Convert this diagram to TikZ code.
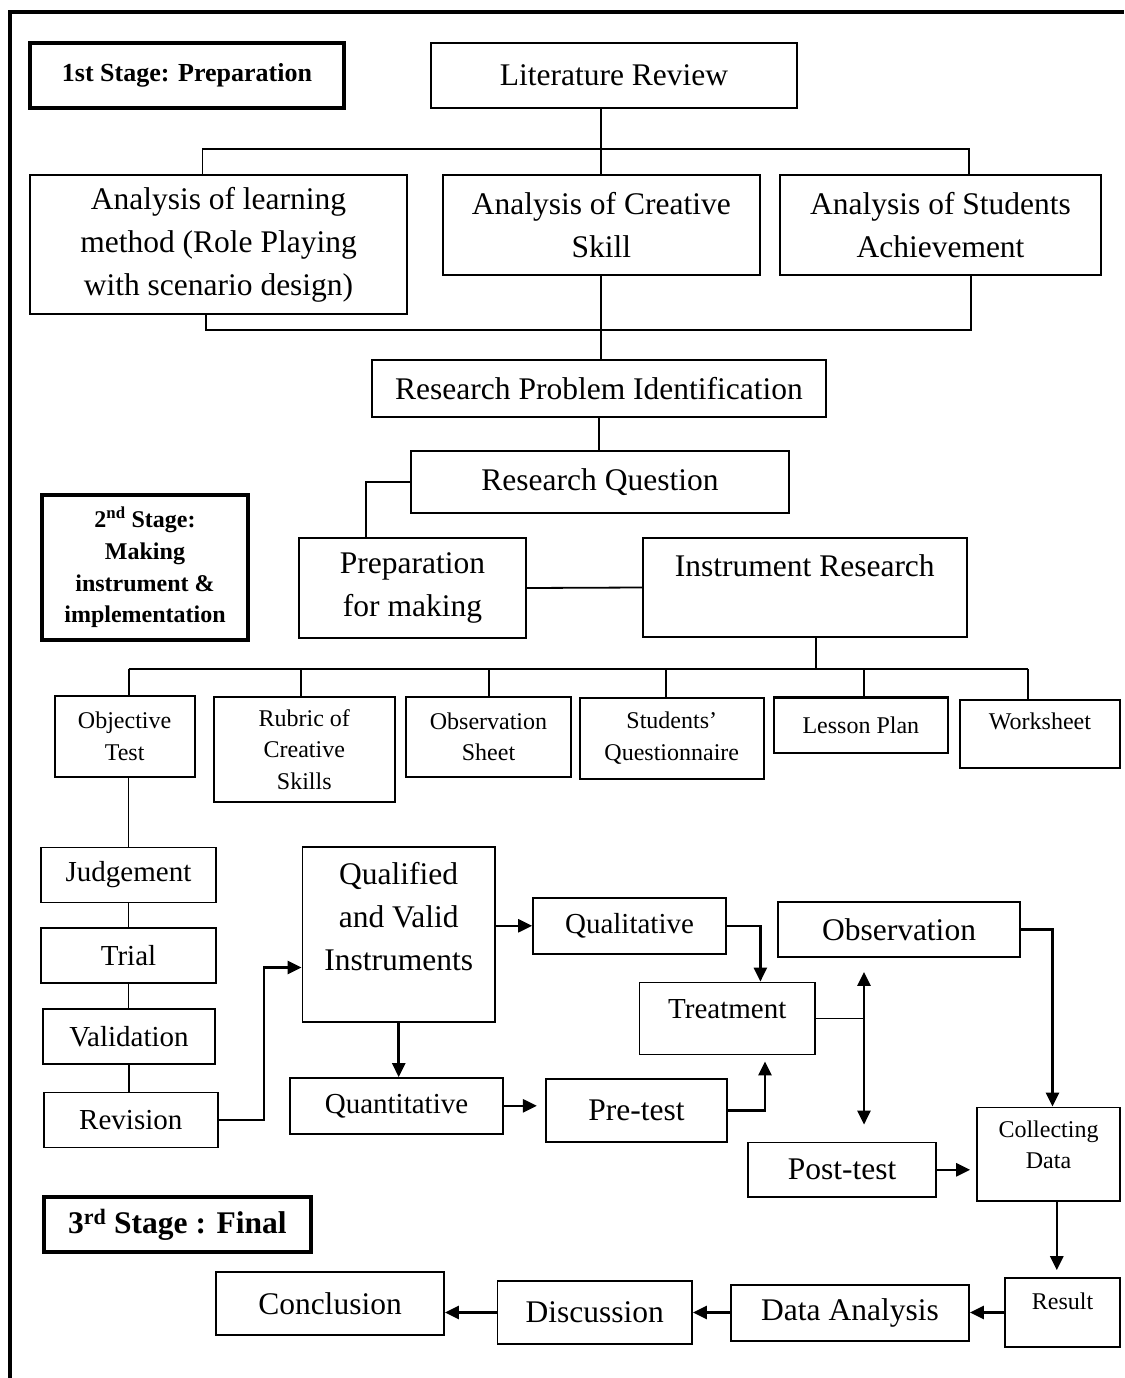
\documentclass[tikz,border=0pt]{standalone}
\usepackage{fontspec}
\setmainfont{Liberation Serif}
\usetikzlibrary{arrows.meta}

\tikzset{
  box/.style={draw, line width=1.8pt, inner sep=0pt, align=center},
  stagebox/.style={draw, line width=4pt, inner sep=0pt, align=center},
  wh/.style 2 args={minimum width=#1pt, minimum height=#2pt},
  bigtxt/.style={font=\fontsize{31.5}{43}\selectfont},
  midtxt/.style={font=\fontsize{29}{42}\selectfont},
  smltxt/.style={font=\fontsize{24}{31.5}\selectfont},
  link/.style={line width=1.8pt},
  arr/.style={line width=2.6pt, -{Triangle[length=14pt,width=13pt]}},
  dbl/.style={line width=2.6pt, {Triangle[length=14pt,width=13pt]}-{Triangle[length=14pt,width=13pt]}},
}

\begin{document}
\begin{tikzpicture}[x=1pt,y=-1pt]

      \useasboundingbox (0,0) rectangle (1124,1378);
      \draw[line width=4.5pt] (10,1378) -- (10,12) -- (1124,12);

      \node[stagebox, font=\bfseries\fontsize{26}{32}\selectfont, wh={314}{65}] (st1) at (187,75.5) {1st Stage: Preparation};
      \node[box, bigtxt, wh={366}{65}] (litrev) at (614,75.5) {Literature Review};
      \node[box, bigtxt, wh={377}{139}] (an1) at (218.5,244.5) {Analysis of learning\\method (Role Playing\\with scenario design)};
      \node[box, bigtxt, wh={316.6}{100}] (an2) at (601.3,225) {Analysis of Creative\\Skill};
      \node[box, bigtxt, wh={321}{100}] (an3) at (940.5,225) {Analysis of Students\\Achievement};
      \node[box, bigtxt, wh={454}{57}] (rpi) at (599,388.5) {Research Problem Identification};
      \node[box, bigtxt, wh={378}{62}] (rq) at (600,482) {Research Question};

      \node[stagebox, font=\bfseries\fontsize{24}{31.7}\selectfont, wh={206}{145}] (st2) at (145,567.5) {2\textsuperscript{nd} Stage:\\Making\\instrument \&\\implementation};
      \node[box, bigtxt, wh={227}{100}] (prep) at (412.5,588) {Preparation\\for making};
      \node[box, bigtxt, wh={324.3}{99}] (instr) at (804.8,587.5) {Instrument Research\\\mbox{}};

      \node[box, smltxt, wh={140}{81}] (obj) at (124.6,736.5) {Objective\\Test};
      \node[box, smltxt, wh={181.4}{104.7}] (rub) at (304.3,749.3) {Rubric of\\Creative\\Skills};
      \node[box, smltxt, wh={165}{80}] (obsh) at (488.5,737) {Observation\\Sheet};
      \node[box, smltxt, wh={183.6}{81.3}] (stq) at (671.8,738.3) {Students’\\Questionnaire};
      \node[box, smltxt, wh={173.8}{55.3}, line width=2.6pt] (les) at (860.9,725.3) {Lesson Plan};
      \node[box, smltxt, wh={160}{67.7}, text height=12pt, text depth=20pt] (wks) at (1040,733.8) {Worksheet};

      \node[box, midtxt, wh={175}{55}] (judg) at (128.5,875) {Judgement};
      \node[box, midtxt, wh={175}{55}] (trial) at (128.5,955.5) {Trial};
      \node[box, midtxt, wh={172}{55}] (valid) at (129,1036.5) {Validation};
      \node[box, midtxt, wh={174.4}{55}] (revis) at (130.8,1120) {Revision};

      \node[box, bigtxt, wh={192.5}{175}] (qual) at (398.7,934.5) {Qualified\\and Valid\\Instruments\\[-7pt]\mbox{}};
      \node[box, midtxt, wh={193}{55.6}] (qualit) at (629.5,925.8) {Qualitative};
      \node[box, midtxt, wh={213}{55.6}] (quant) at (396.5,1105.8) {Quantitative};
      \node[box, bigtxt, wh={181.3}{63.4}] (pre) at (636.4,1110.3) {Pre-test};
      \node[box, midtxt, wh={175.5}{72}, text height=15pt, text depth=16pt] (treat) at (727.2,1018.5) {Treatment};
      \node[box, bigtxt, wh={242}{55}] (obs) at (899,929.5) {Observation};
      \node[box, bigtxt, wh={188}{54.5}] (post) at (842,1169.8) {Post-test};
      \node[box, smltxt, wh={143}{93.5}] (coll) at (1048.5,1154.2) {Collecting\\Data\\[-12.5pt]\mbox{}};

      \node[stagebox, font=\bfseries\fontsize{31.5}{38}\selectfont, wh={267.4}{55}] (st3) at (177.3,1224.5) {3\textsuperscript{rd} Stage : Final};
      \node[box, smltxt, wh={115}{69}, text height=12pt, text depth=19pt] (res) at (1062.5,1312.5) {Result};
      \node[box, bigtxt, wh={238}{56}] (da) at (850,1313) {Data Analysis};
      \node[box, bigtxt, wh={194.5}{63}] (disc) at (594.8,1312.5) {Discussion};
      \node[box, bigtxt, wh={228}{63}] (concl) at (330,1303.5) {Conclusion};

      \begin{scope}[link]
        \coordinate (tl) at (202.5,149);
        \coordinate (tr) at (969,149);
        \coordinate (bl) at (206,330);
        \coordinate (br) at (971,330);
        \draw (an2.north |- litrev.south) -- (an2.north);
        \draw (tl |- an1.north) -- (tl) -- (tr) -- (tr |- an3.north);
        \draw (bl |- an1.south) -- (bl) -- (br) -- (br |- an3.south);
        \draw (an2.south) -- (an2.south |- rpi.north);
        \draw (rpi.south) -- (rpi.south |- rq.north);

        \coordinate (rk) at (366,0);
        \draw (rq.west) -| (prep.north -| rk);
        \draw (prep.east) -- (instr.west);

        \coordinate (ib) at (815.8,669);
        \coordinate (bus) at (128.6,669);
        \coordinate (bus2) at (1027.6,669);
        \draw (instr.south -| ib) -- (ib);
        \draw (bus) -- (bus2);
        \foreach \n/\x in {obj/128.6,rub/300.7,obsh/489,stq/666,les/864,wks/1027.6}
          \draw (bus -| \x,0) -- (\n.north -| \x,0);

        \draw (judg.north |- obj.south) -- (judg.north);
        \draw (judg.south) -- (trial.north);
        \draw (trial.south) -- (trial.south |- valid.north);
        \draw (valid.south) -- (valid.south |- revis.north);

        \coordinate (jn) at (864,1021.4);
        \draw (treat.east) -- (treat.east -| jn);
      \end{scope}

      \coordinate (rx) at (264,967.5);
      \draw[arr] (revis.east) -| (rx) -- (rx -| qual.west);
      \draw[arr] (qual.east |- qualit.west) -- (qualit.west);
      \draw[arr] (qual.south) -- (qual.south |- quant.north);
      \draw[arr, shorten >=8pt] (quant.east) -- (quant.east -| pre.west);

      \coordinate (qx) at (760.4,0);
      \coordinate (px) at (765,0);
      \draw[arr] (qualit.east) -| (treat.north -| qx);
      \draw[arr, shorten >=6pt] (pre.east) -| (treat.south -| px);
      \draw[dbl, shorten <=14pt, shorten >=17pt] (obs.south -| jn) -- (post.north -| jn);

      \coordinate (ox) at (1052.5,0);
      \coordinate (cx) at (1056.8,0);
      \draw[arr] (obs.east) -| (coll.north -| ox);
      \draw[arr, shorten >=6pt] (post.east) -- (post.east -| coll.west);
      \draw[arr, shorten >=7pt] (coll.south -| cx) -- (res.north -| cx);
      \draw[arr] (res.west) -- (res.west -| da.east);
      \draw[arr] (disc.east -| da.west) -- (disc.east);
      \draw[arr] (disc.west) -- (disc.west -| concl.east);

\end{tikzpicture}
\end{document}
